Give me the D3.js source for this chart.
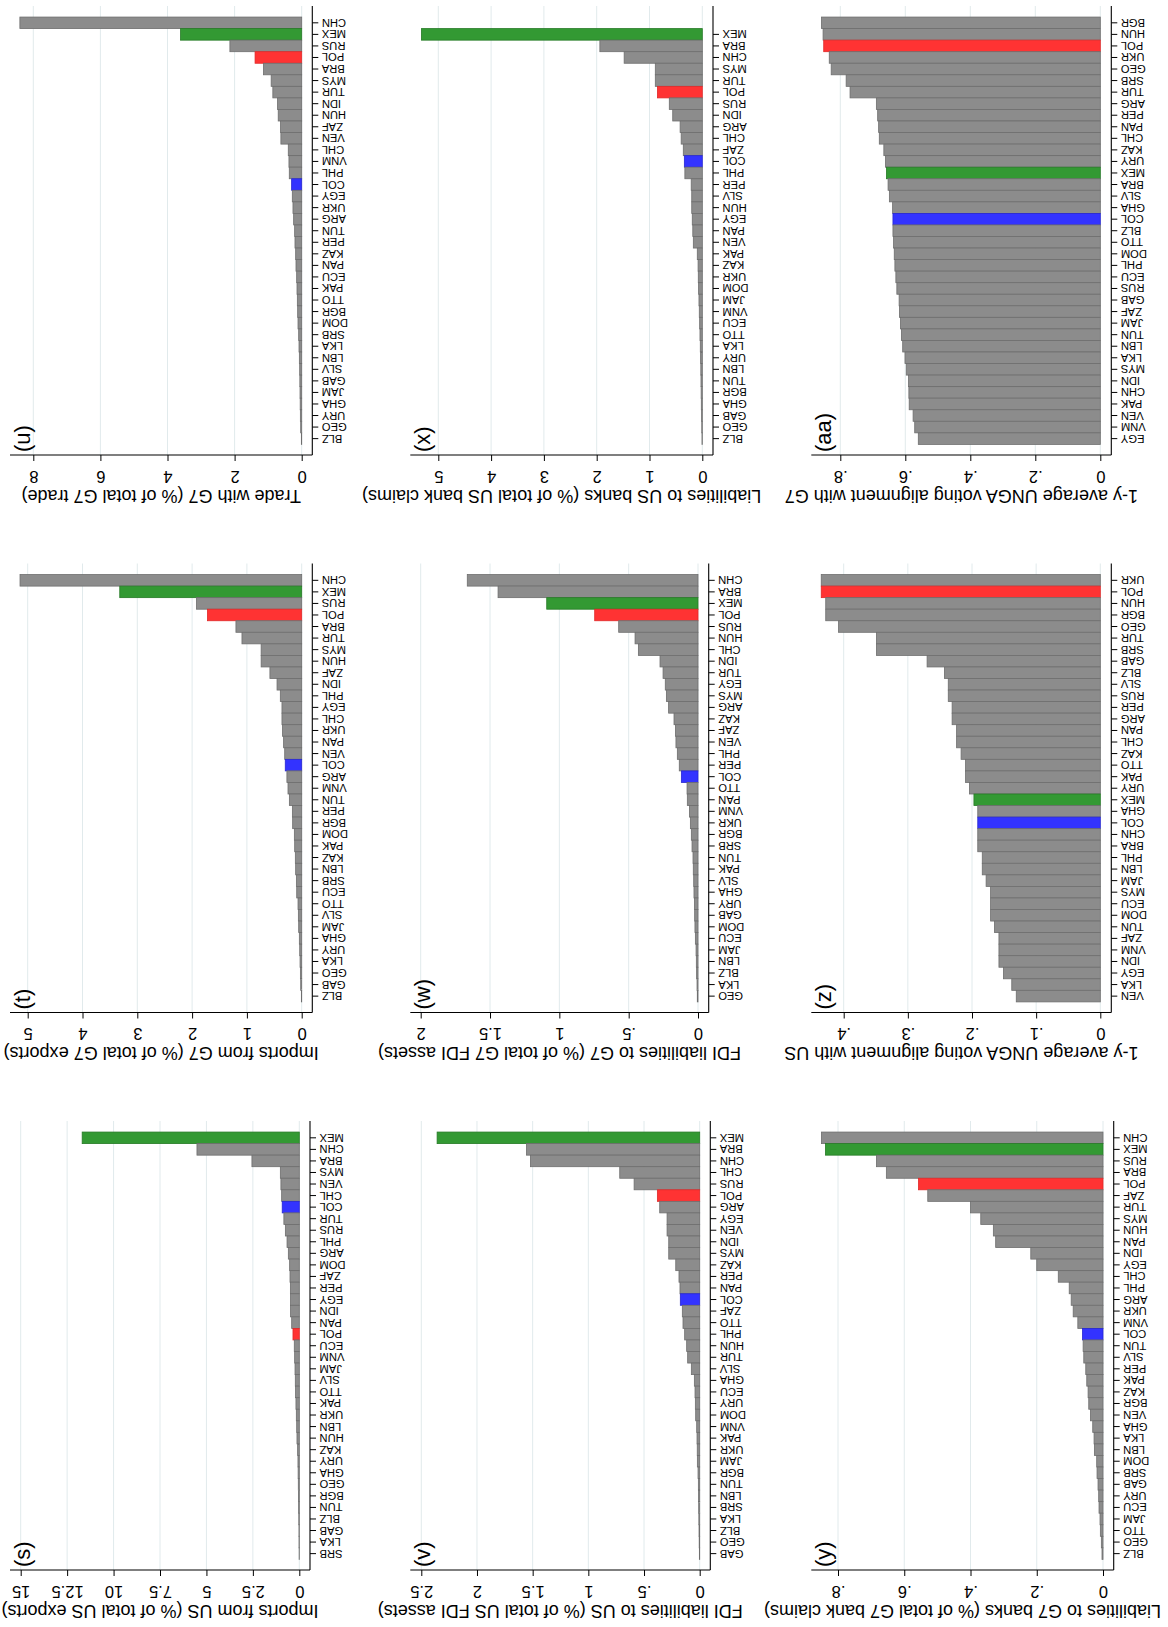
<!DOCTYPE html>
<html>
<head>
<meta charset="utf-8">
<script src="https://cdn.jsdelivr.net/npm/d3@7"></script>
<style>
body { margin: 0; background: #fff; }
text { font-family: "Liberation Sans", Arial, sans-serif; fill: #000; }
</style>
</head>
<body>
<svg id="chart" width="1168" height="1627"></svg>
<script>
// (u) trade with G7
var uCats = ["CHN","MEX","RUS","POL","BRA","MYS","TUR","IDN","HUN","ZAF","VEN","CHL","VNM","PHL","COL","EGY","UKR","ARG","TUN","PER","KAZ","PAN","ECU","PAK","TTO","BGR","DOM","SRB","LKA","LBN","SLV","GAB","JAM","GHA","URY","GEO","BLZ"];
var uVals = [8.40,3.61,2.14,1.39,1.14,0.91,0.86,0.72,0.70,0.63,0.62,0.40,0.38,0.37,0.30,0.28,0.26,0.24,0.21,0.20,0.18,0.17,0.15,0.14,0.13,0.12,0.11,0.09,0.08,0.07,0.06,0.055,0.05,0.045,0.04,0.03,0.01];
var uTicks = [0,2,4,6,8];
var uTickLabels = ["0","2","4","6","8"];

// (x) liabilities to US banks
var xCats = ["MEX","BRA","CHN","MYS","TUR","POL","RUS","IDN","ARG","CHL","ZAF","COL","PHL","PER","SLV","HUN","EGY","PAN","VEN","PAK","KAZ","UKR","DOM","JAM","VNM","ECU","TTO","LKA","URY","LBN","TUN","BGR","GHA","GAB","GEO","BLZ"];
var xVals = [5.32,1.94,1.48,0.89,0.89,0.85,0.625,0.56,0.42,0.40,0.36,0.34,0.33,0.21,0.20,0.20,0.19,0.18,0.17,0.095,0.08,0.076,0.07,0.063,0.057,0.05,0.044,0.038,0.032,0.028,0.025,0.022,0.019,0.013,0.01,0.006];
var xTicks = [0,1,2,3,4,5];
var xTickLabels = ["0","1","2","3","4","5"];

// (aa) UNGA alignment with G7
var aaCats = ["BGR","HUN","POL","UKR","GEO","SRB","TUR","ARG","PER","PAN","CHL","KAZ","URY","MEX","BRA","SLV","GHA","COL","BLZ","TTO","DOM","PHL","ECU","RUS","GAB","ZAF","JAM","TUN","LBN","LKA","MYS","IDN","CHN","PAK","VEN","VNM","EGY"];
var aaVals = [0.858,0.853,0.851,0.834,0.828,0.782,0.770,0.689,0.685,0.682,0.680,0.666,0.661,0.658,0.653,0.649,0.639,0.638,0.638,0.636,0.634,0.632,0.629,0.626,0.619,0.618,0.615,0.612,0.608,0.601,0.597,0.590,0.589,0.588,0.576,0.571,0.560];
var aaTicks = [0,0.2,0.4,0.6,0.8];
var aaTickLabels = ["0",".2",".4",".6",".8"];

// (t) imports from G7
var tCats = ["CHN","MEX","RUS","POL","BRA","TUR","MYS","HUN","ZAF","IDN","PHL","EGY","CHL","UKR","PAN","VEN","COL","ARG","VNM","TUN","PER","BGR","DOM","PAK","KAZ","LBN","SRB","ECU","TTO","SLV","JAM","GHA","URY","LKA","GEO","GAB","BLZ"];
var tVals = [5.14,3.32,1.92,1.72,1.20,1.09,0.74,0.74,0.58,0.45,0.39,0.36,0.36,0.35,0.33,0.31,0.30,0.27,0.25,0.225,0.17,0.165,0.134,0.128,0.116,0.11,0.097,0.091,0.067,0.061,0.055,0.043,0.036,0.03,0.024,0.018,0.006];
var tTicks = [0,1,2,3,4,5];
var tTickLabels = ["0","1","2","3","4","5"];

// (w) FDI liabilities to G7
var wCats = ["CHN","BRA","MEX","POL","RUS","HUN","CHL","IDN","TUR","EGY","MYS","ARG","KAZ","ZAF","VEN","PHL","PER","COL","TTO","PAN","VNM","UKR","BGR","SRB","TUN","PAK","SLV","GHA","URY","GAB","DOM","ECU","JAM","LBN","BLZ","LKA","GEO"];
var wVals = [1.664,1.442,1.091,0.745,0.572,0.454,0.430,0.274,0.252,0.236,0.228,0.212,0.173,0.163,0.159,0.149,0.135,0.120,0.079,0.077,0.062,0.055,0.048,0.043,0.036,0.034,0.031,0.029,0.026,0.024,0.022,0.019,0.014,0.012,0.010,0.007,0.005];
var wTicks = [0,0.5,1,1.5,2];
var wTickLabels = ["0",".5","1","1.5","2"];

// (z) UNGA alignment with US
var zCats = ["UKR","POL","HUN","BGR","GEO","TUR","SRB","GAB","BLZ","SLV","RUS","PER","ARG","PAN","CHL","KAZ","TTO","PAK","URY","MEX","GHA","COL","CHN","BRA","PHL","LBN","JAM","MYS","ECU","DOM","TUN","ZAF","VNM","IDN","EGY","LKA","VEN"];
var zVals = [0.435,0.435,0.428,0.428,0.408,0.349,0.349,0.270,0.243,0.237,0.237,0.231,0.231,0.224,0.224,0.217,0.210,0.210,0.204,0.197,0.191,0.191,0.191,0.191,0.184,0.184,0.178,0.171,0.171,0.171,0.165,0.158,0.158,0.158,0.151,0.138,0.131];
var zTicks = [0,0.1,0.2,0.3,0.4];
var zTickLabels = ["0",".1",".2",".3",".4"];

// (s) imports from US
var sCats = ["MEX","CHN","BRA","MYS","VEN","CHL","COL","TUR","RUS","PHL","ARG","DOM","ZAF","PER","EGY","IDN","PAN","POL","ECU","VNM","JAM","SLV","TTO","PAK","UKR","LBN","HUN","KAZ","URY","GHA","GEO","BGR","TUN","BLZ","GAB","LKA","SRB"];
var sVals = [11.69,5.51,2.55,1.02,0.99,0.95,0.92,0.83,0.75,0.66,0.59,0.52,0.50,0.48,0.47,0.47,0.41,0.34,0.27,0.25,0.23,0.215,0.20,0.18,0.16,0.14,0.125,0.09,0.072,0.063,0.054,0.045,0.036,0.027,0.018,0.016,0.009];
var sTicks = [0,2.5,5,7.5,10,12.5,15];
var sTickLabels = ["0","2.5","5","7.5","10","12.5","15"];

// (v) FDI liabilities to US
var vCats = ["MEX","BRA","CHN","CHL","RUS","POL","ARG","EGY","VEN","IDN","MYS","KAZ","PER","PAN","COL","ZAF","TTO","PHL","HUN","TUR","SLV","GHA","ECU","URY","DOM","VNM","PAK","UKR","JAM","BGR","TUN","LBN","SRB","LKA","BLZ","GEO","GAB"];
var vVals = [2.358,1.556,1.520,0.718,0.589,0.380,0.359,0.293,0.293,0.278,0.278,0.215,0.186,0.177,0.174,0.156,0.150,0.135,0.117,0.108,0.075,0.048,0.042,0.039,0.036,0.027,0.024,0.022,0.021,0.015,0.012,0.010,0.009,0.0075,0.006,0.0045,0.003];
var vTicks = [0,0.5,1,1.5,2,2.5];
var vTickLabels = ["0",".5","1","1.5","2","2.5"];

// (y) liabilities to G7 banks
var yCats = ["CHN","MEX","RUS","BRA","POL","ZAF","TUR","MYS","HUN","PAN","IDN","EGY","CHL","PHL","ARG","UKR","VNM","COL","TUN","SLV","PER","PAK","KAZ","BGR","VEN","GHA","LKA","LBN","DOM","SRB","GAB","URY","ECU","JAM","TTO","GEO","BLZ"];
var yVals = [0.850,0.838,0.684,0.654,0.557,0.529,0.400,0.369,0.331,0.324,0.218,0.200,0.135,0.102,0.096,0.090,0.076,0.062,0.060,0.058,0.052,0.049,0.045,0.043,0.038,0.031,0.027,0.026,0.019,0.018,0.015,0.013,0.012,0.009,0.008,0.005,0.003];
var yTicks = [0,0.2,0.4,0.6,0.8];
var yTickLabels = ["0",".2",".4",".6",".8"];

var panels = [
	{letter: "(u)", cats: uCats, vals: uVals, ticks: uTicks, labels: uTickLabels, title: "Trade with G7 (% of total G7 trade)", col: 0, row: 0, base: 301.7, catX: 312.3, lastPx: 33.3},
	{letter: "(t)", cats: tCats, vals: tVals, ticks: tTicks, labels: tTickLabels, title: "Imports from G7 (% of total G7 exports)", col: 0, row: 1, base: 301.7, catX: 312.3, lastPx: 27.7},
	{letter: "(s)", cats: sCats, vals: sVals, ticks: sTicks, labels: sTickLabels, title: "Imports from US (% of total US exports)", col: 0, row: 2, base: 299.3, catX: 310, lastPx: 20.7},
	{letter: "(x)", cats: xCats, vals: xVals, ticks: xTicks, labels: xTickLabels, title: "Liabilities to US banks (% of total US bank claims)", col: 1, row: 0, base: 702.3, catX: 713, lastPx: 438.3},
	{letter: "(w)", cats: wCats, vals: wVals, ticks: wTicks, labels: wTickLabels, title: "FDI liabilities to G7 (% of total G7 FDI assets)", col: 1, row: 1, base: 698, catX: 708.7, lastPx: 420.7},
	{letter: "(v)", cats: vCats, vals: vVals, ticks: vTicks, labels: vTickLabels, title: "FDI liabilities to US (% of total US FDI assets)", col: 1, row: 2, base: 699.7, catX: 710.3, lastPx: 421.3},
	{letter: "(aa)", cats: aaCats, vals: aaVals, ticks: aaTicks, labels: aaTickLabels, title: "1-y average UNGA voting alignment with G7", col: 2, row: 0, base: 1100.3, catX: 1111.3, lastPx: 840.3},
	{letter: "(z)", cats: zCats, vals: zVals, ticks: zTicks, labels: zTickLabels, title: "1-y average UNGA voting alignment with US", col: 2, row: 1, base: 1100.3, catX: 1111.3, lastPx: 843.7},
	{letter: "(y)", cats: yCats, vals: yVals, ticks: yTicks, labels: yTickLabels, title: "Liabilities to G7 banks (% of total G7 bank claims)", col: 2, row: 2, base: 1103, catX: 1113.7, lastPx: 838}
];

var rowAxis = [455, 1012.5, 1570];
var colLeft = [10, 410.3, 811.3];
var bw = 11.55;

// highlighted countries
var fills = {POL: "#ff3333", MEX: "#339933", COL: "#3333ff"};
var strokes = {POL: "#e02828", MEX: "#267a26", COL: "#2626d0"};

var svg = d3.select("#chart");

panels.forEach(function(p) {
	var axisY = rowAxis[p.row];
	var top = axisY - 449;
	var left = colLeft[p.col];
	var last = p.ticks[p.ticks.length - 1];
	var g = svg.append("g");

	var x = d3.scaleLinear().domain([0, last]).range([p.base, p.lastPx]);
	var bottom = axisY - 10.6;
	var y = d3.scaleBand()
		.domain(p.cats)
		.range([bottom - p.cats.length * bw, bottom])
		.padding(0);

	// grid lines
	g.selectAll("line.grid")
		.data(p.ticks)
		.enter()
		.append("line")
		.attr("class", "grid")
		.attr("x1", function(d) { return x(d); })
		.attr("x2", function(d) { return x(d); })
		.attr("y1", top)
		.attr("y2", axisY)
		.attr("stroke", "#e1eaec")
		.attr("stroke-width", 1);

	var rows = p.cats.map(function(c, i) { return {c: c, v: p.vals[i]}; });

	g.selectAll("rect")
		.data(rows)
		.enter()
		.append("rect")
		.attr("x", function(d) { return x(d.v); })
		.attr("width", function(d) { return x(0) - x(d.v); })
		.attr("y", function(d) { return y(d.c); })
		.attr("height", y.bandwidth())
		.attr("fill", function(d) { return fills[d.c] || "#8c8c8c"; })
		.attr("stroke", function(d) { return strokes[d.c] || "#6e6e6e"; })
		.attr("stroke-width", 0.8);

	// value axis (upside down labels)
	var ax = g.append("g")
		.attr("transform", "translate(0," + axisY + ")")
		.call(d3.axisBottom(x)
			.tickValues(p.ticks)
			.tickFormat(function(d, i) { return p.labels[i]; })
			.tickSize(6)
			.tickSizeOuter(0));
	ax.select(".domain").remove();
	ax.selectAll("text")
		.attr("y", 21.5)
		.attr("dy", null)
		.attr("dominant-baseline", "central")
		.attr("transform", "rotate(180,0,21.5)")
		.style("font-size", "16.5px")
		.style("font-family", "'Liberation Sans', Arial, sans-serif");
	ax.selectAll("line").attr("stroke", "#000");

	g.append("line")
		.attr("x1", left).attr("x2", p.catX)
		.attr("y1", axisY).attr("y2", axisY)
		.attr("stroke", "#000").attr("stroke-width", 1.1);

	// category axis
	var cx = g.append("g")
		.attr("transform", "translate(" + p.catX + ",0)")
		.call(d3.axisRight(y).tickSize(6).tickSizeOuter(0));
	cx.select(".domain").remove();
	cx.selectAll("text")
		.attr("x", 9.5)
		.attr("dy", null)
		.attr("text-anchor", "end")
		.attr("dominant-baseline", "central")
		.attr("transform", "rotate(180,9.5,0)")
		.style("font-size", "11.2px")
		.style("font-family", "'Liberation Sans', Arial, sans-serif");
	g.append("line")
		.attr("x1", p.catX).attr("x2", p.catX)
		.attr("y1", top).attr("y2", axisY)
		.attr("stroke", "#000").attr("stroke-width", 1.1);

	// axis title
	var tx = (left + p.catX) / 2, ty = axisY + 40.5;
	g.append("text")
		.attr("x", tx).attr("y", ty)
		.attr("text-anchor", "middle")
		.attr("dominant-baseline", "central")
		.attr("transform", "rotate(180," + tx + "," + ty + ")")
		.style("font-size", "18px")
		.text(p.title);

	// panel letter, reads bottom to top
	var lx = left + 12.5, ly = axisY - 3;
	g.append("text")
		.attr("x", lx).attr("y", ly)
		.attr("text-anchor", "start")
		.attr("dominant-baseline", "central")
		.attr("transform", "rotate(-90," + lx + "," + ly + ")")
		.style("font-size", "22px")
		.text(p.letter);
});
</script>
</body>
</html>
